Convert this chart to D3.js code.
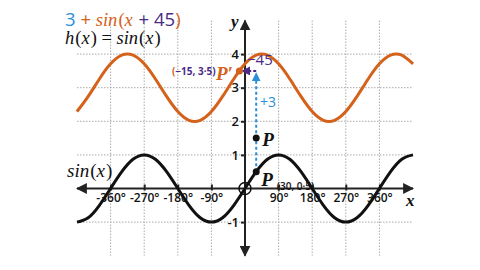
<!DOCTYPE html>
<html>
<head>
<meta charset="utf-8">
<script src="https://cdn.jsdelivr.net/npm/d3@7"></script>
<style>
  body { margin: 0; background: #fff; }
  svg { display: block; }
  text { white-space: pre; }
  .tick text { font-family: "Open Sans", sans-serif; font-weight: 600; fill: #111; }
</style>
</head>
<body>
<script>
// data: x positions in degrees and sampled curve values
var xDegrees = d3.range(-450, 451, 30);
var sinValues = [-1, -0.87, -0.5, 0, 0.5, 0.87, 1, 0.87, 0.5, 0, -0.5, -0.87, -1, -0.87, -0.5, 0,
                 0.5, 0.87, 1, 0.87, 0.5, 0, -0.5, -0.87, -1, -0.87, -0.5, 0, 0.5, 0.87, 1];
var shiftedValues = [2.29, 2.74, 3.26, 3.71, 3.97, 3.97, 3.71, 3.26, 2.74, 2.29, 2.03, 2.03, 2.29, 2.74, 3.26, 3.71,
                     3.97, 3.97, 3.71, 3.26, 2.74, 2.29, 2.03, 2.03, 2.29, 2.74, 3.26, 3.71, 3.97, 3.97, 3.71];
var xTicks = [-360, -270, -180, -90, 90, 180, 270, 360];
var xTickLabels = ["-360°", "-270°", "-180°", "-90°", "90°", "180°", "270°", "360°"];
var yTicks = [-1, 1, 2, 3, 4];
var xGrid = [-360, -270, -180, -90, 90, 180, 270, 360];
var yGrid = [-1, 1, 2, 3, 4];
var pointP = [30, 0.5];
var pointPUp = [30, 1.5];
var pointPPrime = [-15, 3.5];

var orange = "#d4621a", blue = "#2a8fd8", purple = "#4a2c86", ink = "#111";

var width = 480, height = 270;

var x = d3.scaleLinear().domain([-450, 450]).range([77, 413]);
var y = d3.scaleLinear().domain([-2, 5]).range([255.7, 20.5]);

var svg = d3.select("body").append("svg")
    .attr("width", width)
    .attr("height", height);

var defs = svg.append("defs");
function marker(id, color, size) {
  defs.append("marker")
      .attr("id", id)
      .attr("viewBox", "0 0 10 10")
      .attr("refX", 9).attr("refY", 5)
      .attr("markerWidth", size).attr("markerHeight", size)
      .attr("markerUnits", "userSpaceOnUse")
      .attr("orient", "auto-start-reverse")
      .append("path")
      .attr("d", "M0,0 L10,5 L0,10 z")
      .attr("fill", color);
}
marker("arrowAxis", "#222", 11);
marker("arrowBlue", blue, 9);
marker("arrowPurple", purple, 9);

// grid
svg.append("g").selectAll("line.v")
    .data(xGrid).enter().append("line")
    .attr("x1", function(d) { return x(d); })
    .attr("x2", function(d) { return x(d); })
    .attr("y1", y(5)).attr("y2", y(-2))
    .attr("stroke", "#aaa").attr("stroke-width", 1)
    .attr("stroke-dasharray", "1.5,1.5");

svg.append("g").selectAll("line.h")
    .data(yGrid).enter().append("line")
    .attr("x1", x(-450)).attr("x2", x(450))
    .attr("y1", function(d) { return y(d); })
    .attr("y2", function(d) { return y(d); })
    .attr("stroke", "#aaa").attr("stroke-width", 1)
    .attr("stroke-dasharray", "1.5,1.5");

// axes lines with arrows
svg.append("line")
    .attr("x1", x(-450)).attr("x2", x(450))
    .attr("y1", y(0)).attr("y2", y(0))
    .attr("stroke", "#222").attr("stroke-width", 2)
    .attr("marker-start", "url(#arrowAxis)")
    .attr("marker-end", "url(#arrowAxis)");

svg.append("line")
    .attr("x1", x(0)).attr("x2", x(0))
    .attr("y1", y(-2)).attr("y2", y(5))
    .attr("stroke", "#222").attr("stroke-width", 2)
    .attr("marker-start", "url(#arrowAxis)")
    .attr("marker-end", "url(#arrowAxis)");

// tick marks and labels
var xAxis = svg.append("g")
    .attr("transform", "translate(0," + (y(0) + 2) + ")")
    .call(d3.axisBottom(x).tickValues(xTicks).tickSize(4)
      .tickFormat(function(d, i) { return xTickLabels[i]; }));
xAxis.select(".domain").remove();
xAxis.selectAll(".tick line").attr("y1", -6).attr("y2", 0).attr("stroke", "#222").attr("stroke-width", 2);
xAxis.selectAll(".tick text").attr("y", 3).attr("font-size", 12);

var yAxis = svg.append("g")
    .attr("transform", "translate(" + (x(0) - 1) + ",0)")
    .call(d3.axisLeft(y).tickValues(yTicks).tickSize(3));
yAxis.select(".domain").remove();
yAxis.selectAll(".tick line").attr("stroke", "#222").attr("stroke-width", 2);
yAxis.selectAll(".tick text").attr("x", -5).attr("font-size", 13)
    .text(function(d) { return d < 0 ? "-" + Math.abs(d) : d; });

// curves
var line = d3.line()
    .x(function(d, i) { return x(xDegrees[i]); })
    .y(function(d) { return y(d); })
    .curve(d3.curveNatural);

svg.append("path")
    .datum(sinValues)
    .attr("d", line)
    .attr("fill", "none").attr("stroke", ink).attr("stroke-width", 3);

svg.append("path")
    .datum(shiftedValues)
    .attr("d", line)
    .attr("fill", "none").attr("stroke", orange).attr("stroke-width", 3);

// origin circle
svg.append("circle")
    .attr("cx", x(0)).attr("cy", y(0)).attr("r", 6)
    .attr("fill", "none").attr("stroke", ink).attr("stroke-width", 1.5);

// translation arrows
svg.append("line")
    .attr("x1", x(pointP[0])).attr("x2", x(pointP[0]))
    .attr("y1", y(pointP[1])).attr("y2", y(3.43))
    .attr("stroke", blue).attr("stroke-width", 2)
    .attr("stroke-dasharray", "3,2.5")
    .attr("marker-end", "url(#arrowBlue)");

svg.append("line")
    .attr("x1", x(pointP[0])).attr("x2", x(-8))
    .attr("y1", y(pointPPrime[1])).attr("y2", y(pointPPrime[1]))
    .attr("stroke", purple).attr("stroke-width", 2)
    .attr("stroke-dasharray", "3,2")
    .attr("marker-end", "url(#arrowPurple)");

// points
svg.append("circle").attr("cx", x(pointP[0])).attr("cy", y(pointP[1])).attr("r", 3.5).attr("fill", ink);
svg.append("circle").attr("cx", x(pointPUp[0])).attr("cy", y(pointPUp[1])).attr("r", 3.5).attr("fill", ink);
svg.append("circle").attr("cx", x(pointPPrime[0])).attr("cy", y(pointPPrime[1])).attr("r", 3.5).attr("fill", orange);

// text helpers
var serif = "'Liberation Serif', 'DejaVu Serif', serif";
var sans = "'Open Sans', 'Noto Sans', sans-serif";

// title lines
var t1 = svg.append("text").attr("x", 65).attr("y", 26).attr("font-size", 18.5);
t1.append("tspan").attr("font-family", sans).attr("fill", blue).text("3");
t1.append("tspan").attr("font-family", sans).attr("fill", orange).text(" + ");
t1.append("tspan").attr("font-family", serif).attr("font-style", "italic").attr("fill", orange).text("sin");
t1.append("tspan").attr("font-family", serif).attr("fill", orange).attr("dx", 1).text("(");
t1.append("tspan").attr("font-family", serif).attr("font-style", "italic").attr("fill", orange).text("x");
t1.append("tspan").attr("font-family", sans).attr("fill", purple).attr("dx", 1).text(" + 45");
t1.append("tspan").attr("font-family", sans).attr("fill", orange).text(")");

var t2 = svg.append("text").attr("x", 65).attr("y", 44).attr("font-size", 18.5).attr("fill", ink)
    .attr("font-family", serif);
t2.append("tspan").attr("font-style", "italic").text("h");
t2.append("tspan").attr("dx", 1).text("(");
t2.append("tspan").attr("font-style", "italic").text("x");
t2.append("tspan").attr("dx", 1).text(") = ");
t2.append("tspan").attr("font-style", "italic").text("sin");
t2.append("tspan").attr("dx", 1).text("(");
t2.append("tspan").attr("font-style", "italic").text("x");
t2.append("tspan").attr("dx", 1).text(")");

var t3 = svg.append("text").attr("x", 67).attr("y", 177).attr("font-size", 19).attr("fill", ink)
    .attr("font-family", serif);
t3.append("tspan").attr("font-style", "italic").text("sin");
t3.append("tspan").attr("dx", 1).text("(");
t3.append("tspan").attr("font-style", "italic").text("x");
t3.append("tspan").attr("dx", 1).text(")");

// axis names
svg.append("text").attr("x", 231).attr("y", 27).attr("font-family", serif)
    .attr("font-style", "italic").attr("font-weight", "bold").attr("font-size", 17).attr("fill", ink).text("y");
svg.append("text").attr("x", 406).attr("y", 206).attr("font-family", serif)
    .attr("font-style", "italic").attr("font-weight", "bold").attr("font-size", 17).attr("fill", ink).text("x");

// point labels
svg.append("text").attr("x", x(pointPUp[0]) + 6).attr("y", y(pointPUp[1]) + 8)
    .attr("font-family", serif).attr("font-style", "italic").attr("font-weight", "bold")
    .attr("font-size", 19).attr("fill", ink).text("P");

var pl = svg.append("text").attr("x", x(pointP[0]) + 5).attr("y", y(pointP[1]) + 14)
    .attr("font-family", serif).attr("font-style", "italic").attr("font-weight", "bold")
    .attr("font-size", 19).attr("fill", ink);
pl.append("tspan").text("P");
pl.append("tspan").attr("font-family", sans).attr("font-style", "normal").attr("font-weight", 600)
    .attr("font-size", 10).attr("dx", 4).attr("dy", 4).text("(30, 0·5)");

svg.append("text").attr("x", 216).attr("y", 80)
    .attr("font-family", serif).attr("font-style", "italic").attr("font-weight", "bold")
    .attr("font-size", 19).attr("fill", orange).text("P′");

var pp = svg.append("text").attr("x", 172).attr("y", 75)
    .attr("font-family", sans).attr("font-weight", "bold").attr("font-size", 10).attr("fill", purple);
pp.append("tspan").attr("fill", orange).text("(");
pp.append("tspan").text("−15, 3·5)");

svg.append("text").attr("x", 247).attr("y", 65)
    .attr("font-family", sans).attr("font-size", 15).attr("fill", purple).text("−45");

svg.append("text").attr("x", 260).attr("y", 107)
    .attr("font-family", sans).attr("font-size", 14).attr("fill", blue).text("+3");
</script>
</body>
</html>
